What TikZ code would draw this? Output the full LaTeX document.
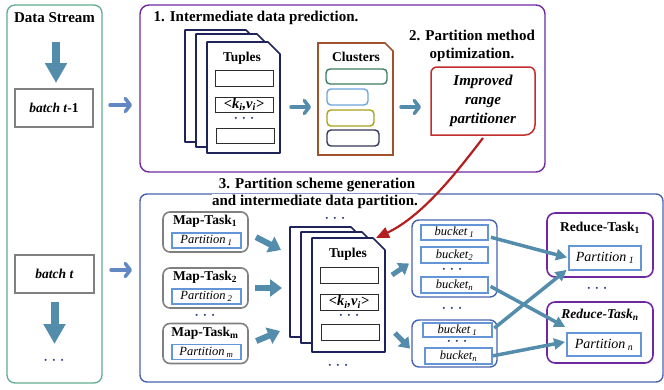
\documentclass[tikz,border=0pt]{standalone}
\usepackage{fontspec}
\setmainfont{Liberation Serif}
\usetikzlibrary{arrows.meta}
\definecolor{grn}{RGB}{95,172,140}
\definecolor{stb}{RGB}{84,140,172}
\definecolor{lbl}{RGB}{98,136,196}
\definecolor{pur}{RGB}{112,40,160}
\definecolor{nav}{RGB}{30,35,90}
\definecolor{brn}{RGB}{160,82,45}
\definecolor{rd}{RGB}{195,45,45}
\definecolor{drd}{RGB}{180,30,30}
\definecolor{bbl}{RGB}{70,100,175}
\definecolor{ibl}{RGB}{100,150,215}
\definecolor{gry}{RGB}{128,128,128}
\definecolor{dk}{RGB}{45,45,45}
\definecolor{dotc}{RGB}{40,60,130}
\newcommand\mydoc[3]{\draw[#3] (#1.north west) -- ([xshift=-#2]#1.north east) -- ([yshift=-#2]#1.north east) -- (#1.south east) -- (#1.south west) -- cycle;}
\newcommand\dts{·\hspace{4pt}·\hspace{4pt}·}
\tikzset{
  every node/.style={inner sep=0pt, outer sep=0pt},
  hd/.style={font=\fontsize{15}{18}\selectfont\bfseries, align=center},
  tx/.style={font=\fontsize{13.5}{16}\selectfont},
  sm/.style={font=\fontsize{12.5}{15}\selectfont\itshape},
  dotn/.style={font=\fontsize{12.5}{12}\selectfont\bfseries, text=dotc},
  rbox/.style={draw=dk, line width=0.8pt, fill=white},
  ibox/.style={draw=ibl, line width=1.2pt, fill=white},
  sheet/.style={draw=nav, line width=1.6pt, fill=white, line join=round},
  fatA/.style={draw=stb, line width=8pt, -{Triangle[width=21pt,length=20pt]}},
  mapA/.style={draw=stb, line width=6pt, -{Triangle[width=17pt,length=12pt]}},
  bkA/.style={draw=stb, line width=5pt, -{Triangle[width=14pt,length=10pt]}},
  thA/.style={draw=stb, line width=3.5pt, -{Triangle[width=11pt,length=11pt]}},
  chev/.style={line width=3.5pt, line cap=round, -{Straight Barb[length=5pt,width=13pt,line width=3.5pt,round]}},
}
\begin{document}
\begin{tikzpicture}[x=1pt,y=-1pt]
\useasboundingbox (0,0) rectangle (664,389);
% ---------- Data stream column
\node[draw=grn, line width=1.3pt, rounded corners=8pt, minimum width=95, minimum height=378] (ds) at (54.5,194) {};
\node[hd] (dst) at (54.5,18) {Data Stream};
\node[draw=gry, line width=1.3pt, minimum width=78, minimum height=38, tx] (bt1) at (54,108) {\textbf{\textit{batch t}-1}};
\node[draw=gry, line width=1.3pt, minimum width=79, minimum height=38, tx] (bt) at (54.5,274) {\textbf{\textit{batch t}}};
\node[dotn] (dsd) at (54,362) {\dts};
\coordinate (a0) at (56,42);
\draw[fatA] (a0) -- ([yshift=6pt]bt1.north -| a0);
\coordinate (a2) at (54.5,344);
\draw[fatA, shorten <=9pt] (bt.south) -- (a2);
% ---------- top frame
\node[draw=pur, line width=1.4pt, rounded corners=9pt, minimum width=405, minimum height=167] (top) at (342.5,88.5) {};
\node[hd] (t1) at (256,18) {1. Intermediate data prediction.};
\draw[chev, lbl, shorten <=17pt, shorten >=8pt] ([yshift=3pt]bt1.east) -- ([yshift=3pt]bt1.east -| top.west);
% tuple stack (top)
\node[minimum width=73, minimum height=112] (ta) at (221.5,86) {};
\node[minimum width=73, minimum height=113] (tb) at (232.5,90.5) {};
\node[minimum width=73, minimum height=111] (tc) at (243.5,97.5) {};
\mydoc{ta}{12pt}{sheet}
\mydoc{tb}{12pt}{sheet}
\mydoc{tc}{12pt}{sheet}
\node[tx, font=\fontsize{13.5}{16}\selectfont\bfseries] (tct) at (242,58) {Tuples};
\node[rbox, minimum width=58, minimum height=16] (tr1) at (244,78) {};
\node[rbox, minimum width=58, minimum height=15, font=\fontsize{14.5}{16}\selectfont\bfseries\itshape] (tr2) at (244,104.5) {<k\textsubscript{i},v\textsubscript{i}>};
\node[dotn] (trd) at (244,120) {\dts};
\node[rbox, minimum width=58, minimum height=15] (tr3) at (245,135.5) {};
% clusters
\node[minimum width=75, minimum height=112] (cl) at (355.5,99) {};
\mydoc{cl}{8pt}{draw=brn, line width=1.6pt, fill=white}
\node[font=\fontsize{13.5}{16}\selectfont\bfseries] (clt) at (356,57) {Clusters};
\node[draw={rgb,255:red,60;green,125;blue,95}, line width=1.4pt, rounded corners=4pt, minimum width=61, minimum height=15] (c1) at (356.5,76.5) {};
\node[draw={rgb,255:red,110;green,165;blue,220}, line width=1.4pt, rounded corners=4pt, minimum width=41, minimum height=16] (c2) at (347.5,97) {};
\node[draw={rgb,255:red,170;green,160;blue,30}, line width=1.4pt, rounded corners=4pt, minimum width=47, minimum height=16] (c3) at (350.5,118) {};
\node[draw={rgb,255:red,50;green,55;blue,90}, line width=1.4pt, rounded corners=4pt, minimum width=52, minimum height=16] (c4) at (353,138) {};
\draw[chev, stb, shorten <=11pt, shorten >=7pt] ([yshift=-9.5pt]tc.east) -- ([yshift=-9.5pt]tc.east -| cl.west);
% improved partitioner
\node[hd] (t2) at (472,46) {2. Partition method\\optimization.};
\node[minimum width=104, minimum height=68, hd, font=\fontsize{15}{19}\selectfont\bfseries\itshape] (imp) at (483,101) {Improved\\range\\partitioner};
\draw[draw=rd, line width=1.5pt] (imp.west) [rounded corners=6pt] -- (imp.north west) -- (imp.north east) [rounded corners=10pt] -- (imp.south east) [sharp corners] -- (imp.south west) -- cycle;
\draw[chev, stb, shorten <=8pt, shorten >=10pt] ([yshift=-8pt]cl.east) -- ([yshift=-8pt]cl.east -| imp.west);
% ---------- bottom frame
\node[draw=bbl, line width=1.4pt, rounded corners=7pt, minimum width=523, minimum height=188] (bot) at (401.5,288) {};
\node[hd] (t3a) at (317,185) {3. Partition scheme generation};
\node[hd, fill=white, inner ysep=1pt] (t3b) at (315,202) {and intermediate data partition.};
\draw[chev, lbl, shorten <=17pt, shorten >=8pt] ([yshift=4pt]bt.east) -- ([yshift=4pt]bt.east -| bot.west);
% map tasks
\foreach \n/\y/\s in {m1/232/1, m2/288/2, mm/343.5/m}{
  \node[draw=gry, line width=1.6pt, rounded corners=7pt, minimum width=85, minimum height=40] (\n) at (205.5,\y) {};
  \node[font=\fontsize{13.5}{16}\selectfont\bfseries] (\n l) at (205,\y-10.5) {Map-Task\textsubscript{\s}};
  \node[ibox, minimum width=69, minimum height=15, sm] (\n p) at (206.5,\y+8.5) {Partition\,\textsubscript{\s}};
}
\node[dotn] (md) at (205,317) {\dts};
% tuple stack (bottom)
\node[minimum width=73, minimum height=110] (ua) at (326.5,282) {};
\node[minimum width=73, minimum height=111] (ub) at (337.5,287.5) {};
\node[minimum width=73, minimum height=114] (uc) at (348.5,295) {};
\mydoc{ua}{12pt}{sheet}
\mydoc{ub}{12pt}{sheet}
\mydoc{uc}{12pt}{sheet}
\node[dotn] (ud1) at (335,220) {\dts};
\node[dotn] (ud2) at (338,367) {\dts};
\node[font=\fontsize{13.5}{16}\selectfont\bfseries] (uct) at (348,254) {Tuples};
\node[rbox, minimum width=58, minimum height=16] (ur1) at (349,275) {};
\node[rbox, minimum width=58, minimum height=16, font=\fontsize{14.5}{16}\selectfont\bfseries\itshape] (ur2) at (349,302) {<k\textsubscript{i},v\textsubscript{i}>};
\node[dotn] (urd) at (349,317) {\dts};
\node[rbox, minimum width=58, minimum height=16] (ur3) at (350,332) {};
\coordinate (mA) at (281,250);
\coordinate (mB) at (282,288);
\coordinate (mC) at (280,331);
\draw[mapA, shorten <=9pt] ([yshift=-1pt]m1.east) -- (mA);
\draw[mapA, shorten <=7pt] (m2.east) -- (mB);
\draw[mapA, shorten <=9pt] ([yshift=-1pt]mm.east) -- (mC);
% buckets
\node[draw=bbl, line width=1.4pt, rounded corners=7pt, minimum width=85, minimum height=77] (g1) at (454.5,258.5) {};
\node[ibox, minimum width=67, minimum height=15, sm] (b11) at (454.5,232.5) {bucket\,\textsubscript{1}};
\node[ibox, minimum width=67, minimum height=16, sm] (b12) at (454.5,255) {bucket\textsubscript{2}};
\node[dotn] (bd1) at (452,271) {\dts};
\node[ibox, minimum width=67, minimum height=16, sm] (b1n) at (454.5,285) {bucket\textsubscript{n}};
\node[dotn] (bd2) at (452,310) {\dts};
\node[draw=bbl, line width=1.4pt, rounded corners=7pt, minimum width=85, minimum height=47] (g2) at (454.5,343.5) {};
\node[ibox, minimum width=69, minimum height=14, sm] (b21) at (457.5,330) {bucket\,\textsubscript{1}};
\node[dotn] (bd3) at (457,343) {\dts};
\node[ibox, minimum width=67, minimum height=16, sm] (b2n) at (458.5,356) {bucket\textsubscript{n}};
\coordinate (uA) at (392,275);
\coordinate (uB) at (395,333);
\draw[bkA] (uA) -- ([shift={(-3pt,-5pt)}]g1.west);
\draw[bkA] (uB) -- ([shift={(-2pt,-5pt)}]g2.west);
% reduce tasks
\node[draw=pur, line width=1.6pt, rounded corners=8pt, minimum width=106, minimum height=64] (r1) at (600,245) {};
\node[font=\fontsize{13.5}{16}\selectfont\bfseries] (r1l) at (600,228) {Reduce-Task\textsubscript{1}};
\node[ibox, minimum width=72, minimum height=24, sm, font=\fontsize{14}{16}\selectfont\itshape] (r1p) at (605,258) {Partition\,\textsubscript{1}};
\node[dotn] (rd) at (597,290) {\dts};
\node[draw=pur, line width=1.6pt, rounded corners=8pt, minimum width=106, minimum height=61] (rn) at (600,332.5) {};
\node[font=\fontsize{13.5}{16}\selectfont\bfseries\itshape] (rnl) at (600,315) {Reduce-Task\textsubscript{n}};
\node[ibox, minimum width=74, minimum height=23, sm, font=\fontsize{14}{16}\selectfont\itshape] (rnp) at (604,344.5) {Partition\,\textsubscript{n}};
\draw[thA, shorten <=3pt, shorten >=2pt] ([yshift=-4pt]b11.east) -- (r1p.west);
\draw[thA, shorten <=3pt, shorten >=2pt] (b1n.east) -- ([yshift=5pt]rnp.north west);
\draw[thA, shorten <=3pt, shorten >=3pt] (b21.east) -- ([yshift=2pt]r1p.south west);
\draw[thA, shorten <=1pt, shorten >=2pt] (b2n.east) -- ([yshift=3pt]rnp.west);
% red curved arrow
\coordinate (rt) at (376,238);
\draw[draw=drd, line width=2.2pt, -{Triangle[width=11pt,length=13pt]}] ([yshift=-3pt]imp.south) .. controls (462,165) and (425,215) .. (rt);
\end{tikzpicture}
\end{document}
